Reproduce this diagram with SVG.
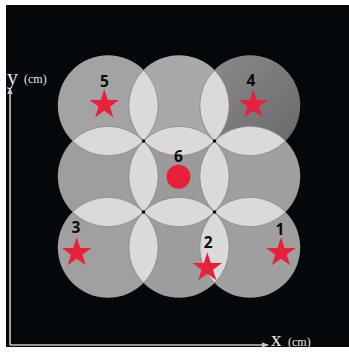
<svg xmlns="http://www.w3.org/2000/svg" width="349" height="352" viewBox="0 0 349 352">
<defs>
<style>
.lens{fill:#dadada;stroke:#6e6e6e;stroke-width:0.6}
.lbl{font-family:"Open Sans","Noto Sans",sans-serif;font-weight:700;font-size:15.5px;fill:#0a0a0a;text-anchor:middle}
.ax{stroke:#c8c8c8;stroke-width:1.6;fill:none}
.axt{font-family:"Liberation Serif",serif;fill:#e6e6e6}
.red{fill:#e8203a}
</style>
<linearGradient id="g4" x1="0" y1="0" x2="1" y2="1">
<stop offset="0" stop-color="#8c8c8c"/>
<stop offset="1" stop-color="#686868"/>
</linearGradient>
<path id="star" d="M0,-15.5 L3.52,-4.85 L14.74,-4.79 L5.7,1.85 L9.11,12.54 L0,6 L-9.11,12.54 L-5.7,1.85 L-14.74,-4.79 L-3.52,-4.85 Z"/>
<marker id="ah" viewBox="0 0 10 10" refX="9" refY="5" markerWidth="7" markerHeight="7" orient="auto" markerUnits="userSpaceOnUse">
<path d="M0,1 L10,5 L0,9 Z" fill="#c8c8c8"/>
</marker>
</defs>
<rect width="349" height="352" fill="#ffffff"/>
<rect x="6" y="5" width="343" height="342" fill="#05080b"/>
<g id="circles">
<circle cx="108" cy="105.5" r="50.2" fill="#a3a3a3"/>
<circle cx="179" cy="105.5" r="50.2" fill="#a8a9a8"/>
<circle cx="250" cy="105.5" r="50.2" fill="url(#g4)"/>
<circle cx="108" cy="176.5" r="50.2" fill="#9e9e9e"/>
<circle cx="179" cy="176.5" r="50.2" fill="#9b9b9b"/>
<circle cx="250" cy="176.5" r="50.2" fill="#9f9f9f"/>
<circle cx="108" cy="247.5" r="50.2" fill="#a0a0a0"/>
<circle cx="179" cy="247.5" r="50.2" fill="#9d9d9d"/>
<circle cx="250" cy="247.5" r="50.2" fill="#9f9f9f"/>
</g>
<g id="lenses">
<path class="lens" d="M143.5,70 A50.2,50.2 0 0 1 143.5,141 A50.2,50.2 0 0 1 143.5,70 Z"/>
<path class="lens" d="M214.5,70 A50.2,50.2 0 0 1 214.5,141 A50.2,50.2 0 0 1 214.5,70 Z"/>
<path class="lens" d="M143.5,141 A50.2,50.2 0 0 1 143.5,212 A50.2,50.2 0 0 1 143.5,141 Z"/>
<path class="lens" d="M214.5,141 A50.2,50.2 0 0 1 214.5,212 A50.2,50.2 0 0 1 214.5,141 Z"/>
<path class="lens" d="M143.5,212 A50.2,50.2 0 0 1 143.5,283 A50.2,50.2 0 0 1 143.5,212 Z"/>
<path class="lens" d="M214.5,212 A50.2,50.2 0 0 1 214.5,283 A50.2,50.2 0 0 1 214.5,212 Z"/>
<path class="lens" d="M72.5,141 A50.2,50.2 0 0 1 143.5,141 A50.2,50.2 0 0 1 72.5,141 Z"/>
<path class="lens" d="M143.5,141 A50.2,50.2 0 0 1 214.5,141 A50.2,50.2 0 0 1 143.5,141 Z"/>
<path class="lens" d="M214.5,141 A50.2,50.2 0 0 1 285.5,141 A50.2,50.2 0 0 1 214.5,141 Z"/>
<path class="lens" d="M72.5,212 A50.2,50.2 0 0 1 143.5,212 A50.2,50.2 0 0 1 72.5,212 Z"/>
<path class="lens" d="M143.5,212 A50.2,50.2 0 0 1 214.5,212 A50.2,50.2 0 0 1 143.5,212 Z"/>
<path class="lens" d="M214.5,212 A50.2,50.2 0 0 1 285.5,212 A50.2,50.2 0 0 1 214.5,212 Z"/>
</g>
<g id="dots" fill="#000">
<circle cx="143.5" cy="141" r="1.8"/>
<circle cx="214.5" cy="141" r="1.8"/>
<circle cx="143.5" cy="212" r="1.8"/>
<circle cx="214.5" cy="212" r="1.8"/>
</g>
<g id="node5"><use href="#star" class="red" x="104.3" y="104.8"/><text class="lbl" x="104.5" y="87">5</text></g>
<g id="node4"><use href="#star" class="red" x="253.3" y="104.8"/><text class="lbl" x="251" y="86">4</text></g>
<g id="node6"><circle class="red" cx="178.5" cy="176.7" r="12"/><text class="lbl" x="178.5" y="162">6</text></g>
<g id="node3"><use href="#star" class="red" x="76.7" y="252.8"/><text class="lbl" x="76" y="233">3</text></g>
<g id="node2"><use href="#star" class="red" x="207.3" y="267.8"/><text class="lbl" x="208.3" y="248">2</text></g>
<g id="node1"><use href="#star" class="red" x="281" y="252.8"/><text class="lbl" x="280" y="235">1</text></g>
<g id="axes">
<line class="ax" x1="10" y1="345" x2="10" y2="88" marker-end="url(#ah)"/>
<line class="ax" x1="10" y1="345" x2="268" y2="345" marker-end="url(#ah)"/>
<text class="axt" x="7" y="84" font-size="22">y</text>
<text class="axt" x="24" y="83" font-size="12">(cm)</text>
<text class="axt" x="271" y="346" font-size="21">x</text>
<text class="axt" x="288" y="346" font-size="12">(cm)</text>
</g>
</svg>
